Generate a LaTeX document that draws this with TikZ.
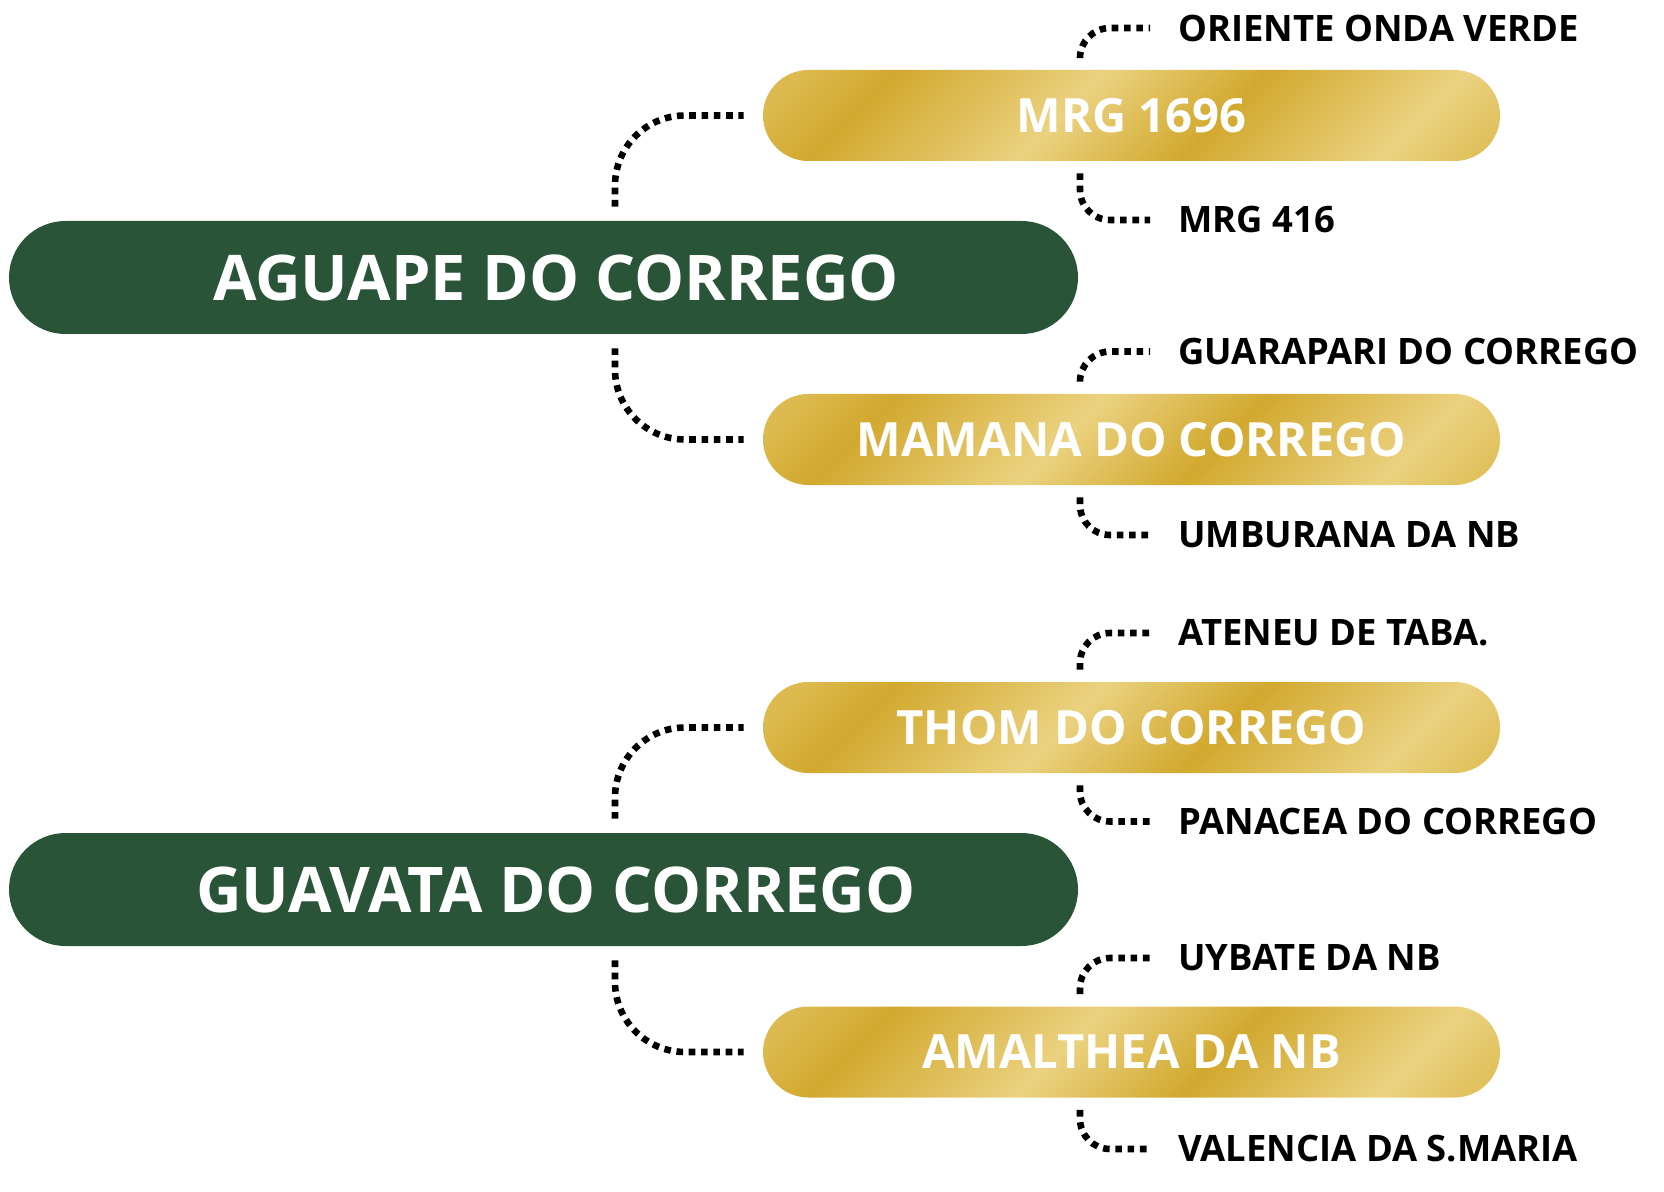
\documentclass[tikz,border=0pt]{standalone}
\usepackage{fontspec}
\setmainfont{Open Sans}
\usetikzlibrary{shapes.misc}
\definecolor{pedgreen}{HTML}{2A5438}
\definecolor{golddark}{HTML}{D2A92F}
\definecolor{goldmid}{HTML}{DDBA4F}
\definecolor{goldlight}{HTML}{EBD280}
\pgfdeclarehorizontalshading{goldsheen}{100bp}{color(0bp)=(goldmid); color(18bp)=(goldmid); color(26bp)=(golddark); color(44bp)=(goldlight); color(58bp)=(golddark); color(75bp)=(goldlight); color(86bp)=(goldmid); color(100bp)=(goldmid)}

\begin{document}
\begin{tikzpicture}[x=0.5pt, y=-0.5pt,
                    animal/.style={rounded rectangle, fill=pedgreen, text=white, inner sep=0pt, minimum width=534.5pt, minimum height=56.5pt, font=\bfseries\fontsize{31.5}{36}\selectfont, execute at begin node={\hspace*{12.5pt}}},
                    parent/.style={rounded rectangle, shading=goldsheen, shading angle=-45, text=white, inner sep=0pt, minimum width=368.5pt, minimum height=45.5pt, font=\bfseries\fontsize{23.6}{28}\selectfont},
                    grandparent/.style={anchor=west, inner sep=0pt, font=\bfseries\fontsize{18.2}{22}\selectfont},
                    link/.style={line width=3.3pt, dash pattern=on 3.3pt off 2.85pt, rounded corners=35pt, shorten <=7pt, shorten >=9.5pt},
                    twig/.style={line width=3.3pt, dash pattern=on 3.3pt off 2.85pt, rounded corners=15pt, shorten <=6pt, shorten >=14pt}]
                    \useasboundingbox (0,0) rectangle (1664,1192);

                    % Animals
                    \node[animal] (aguape) at (543.5,277.5) {AGUAPE DO CORREGO};
                    \node[animal] (guavata) at (543.5,889.5) {GUAVATA DO CORREGO};

                    % Parents
                    \node[parent] (mrg) at (1131.5,115.5) {MRG 1696};
                    \node[parent] (mamana) at (1131.5,439.5) {MAMANA DO CORREGO};
                    \node[parent] (thom) at (1131.5,727.5) {THOM DO CORREGO};
                    \node[parent] (amalthea) at (1131.5,1052) {AMALTHEA DA NB};

                    \draw[link] ([xshift=35.75pt]aguape.north) |- (mrg.west);
                    \draw[link] ([xshift=35.75pt]aguape.south) |- (mamana.west);
                    \draw[link] ([xshift=35.75pt]guavata.north) |- (thom.west);
                    \draw[link] ([xshift=35.75pt]guavata.south) |- (amalthea.west);

                    % Grandparents
                    \node[grandparent] (oriente) at (1178,28) {ORIENTE ONDA VERDE};
                    \node[grandparent] (mrgfour) at (1178,220) {MRG 416};
                    \node[grandparent] (guarapari) at (1178,351.5) {GUARAPARI DO CORREGO};
                    \node[grandparent] (umburana) at (1178,535) {UMBURANA DA NB};
                    \node[grandparent] (ateneu) at (1178,633) {ATENEU DE TABA.};
                    \node[grandparent] (panacea) at (1178,821.5) {PANACEA DO CORREGO};
                    \node[grandparent] (uybate) at (1178,958) {UYBATE DA NB};
                    \node[grandparent] (valencia) at (1178,1149) {VALENCIA DA S.MARIA};

                    \draw[twig] ([xshift=-25.75pt]mrg.north) |- (oriente.west);
                    \draw[twig] ([xshift=-25.75pt]mrg.south) |- (mrgfour.west);
                    \draw[twig] ([xshift=-25.75pt]mamana.north) |- (guarapari.west);
                    \draw[twig] ([xshift=-25.75pt]mamana.south) |- (umburana.west);
                    \draw[twig] ([xshift=-25.75pt]thom.north) |- (ateneu.west);
                    \draw[twig] ([xshift=-25.75pt]thom.south) |- (panacea.west);
                    \draw[twig] ([xshift=-25.75pt]amalthea.north) |- (uybate.west);
                    \draw[twig] ([xshift=-25.75pt]amalthea.south) |- (valencia.west);
                \end{tikzpicture}
\end{document}
